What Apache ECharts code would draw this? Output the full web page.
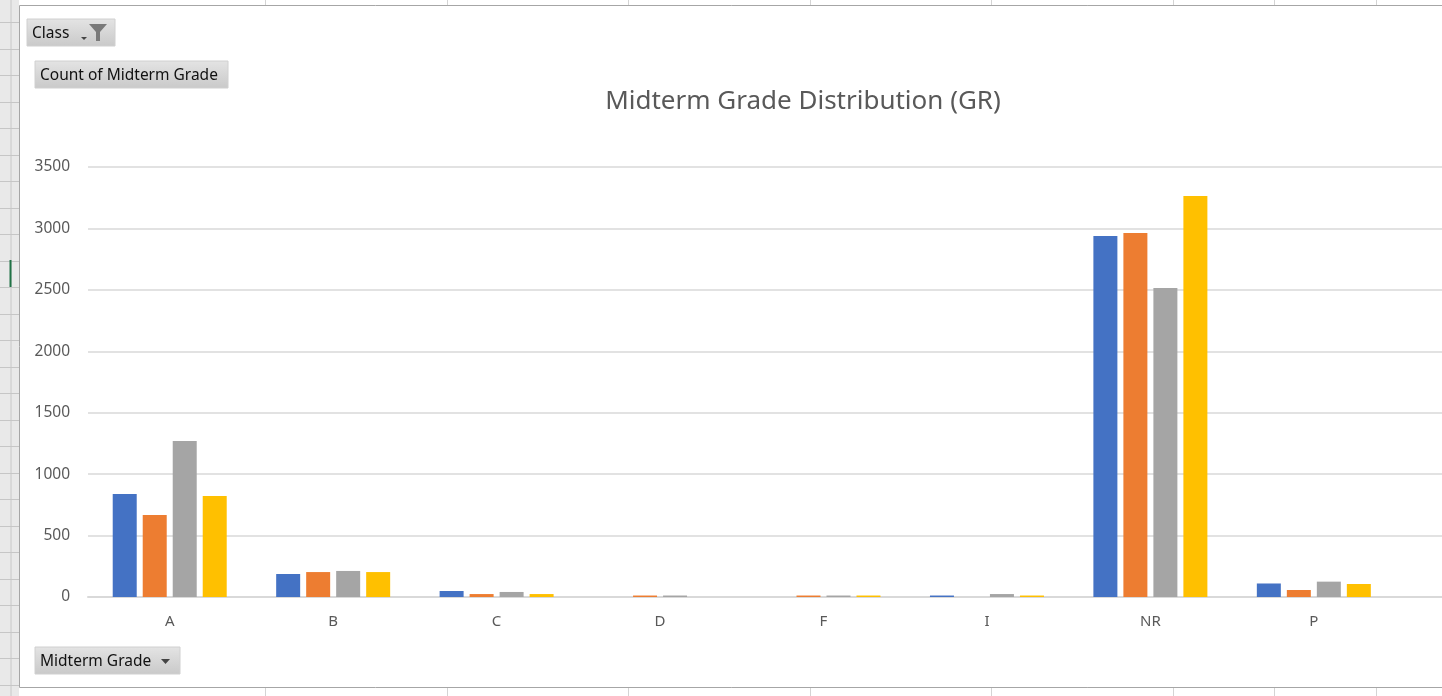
<!DOCTYPE html>
<html>
<head>
<meta charset="utf-8">
<script src="https://cdn.jsdelivr.net/npm/echarts@6/dist/echarts.min.js"></script>
<style>
html,body{margin:0;padding:0;background:#fff;}
#chart{width:1442px;height:696px;}
</style>
</head>
<body>
<div id="chart"></div>
<script>
// ---- data ----
const categories = ['A', 'B', 'C', 'D', 'F', 'I', 'NR', 'P'];
const series1 = [838, 187, 49, null, null, 12, 2938, 110];
const series2 = [667, 203, 24, 12, 12, null, 2963, 57];
const series3 = [1270, 212, 41, 12, 12, 24, 2515, 125];
const series4 = [822, 203, 24, null, 12, 12, 3264, 106];
const seriesNames = ['Class 1', 'Class 2', 'Class 3', 'Class 4'];
const yTicks = { min: 0, max: 3500, interval: 500 };
const titleText = 'Midterm Grade Distribution (GR)';

const colors = ['#4472C4', '#ED7D31', '#A5A5A5', '#FFC000'];
const FONT = '"Noto Sans", "DejaVu Sans", sans-serif';

// ---- spreadsheet background decoration ----
const deco = [];
deco.push({type:'rect', shape:{x:0,y:0,width:19,height:696}, style:{fill:'#e9e9e9'}, z:-10, silent:true});
deco.push({type:'line', shape:{x1:11,y1:0,x2:11,y2:696}, style:{stroke:'#c8c8c8',lineWidth:1}, z:-9, silent:true});
for (let y = 22; y < 696; y += 26.5) {
  deco.push({type:'line', shape:{x1:0,y1:Math.round(y)+0.5,x2:19,y2:Math.round(y)+0.5}, style:{stroke:'#c6c6c6',lineWidth:1}, z:-9, silent:true});
}
deco.push({type:'line', shape:{x1:10.5,y1:260,x2:10.5,y2:287}, style:{stroke:'#217346',lineWidth:2}, z:-8, silent:true});
[265, 447, 628, 810, 991, 1173, 1274, 1376].forEach(x => {
  deco.push({type:'line', shape:{x1:x+0.5,y1:0,x2:x+0.5,y2:6}, style:{stroke:'#d4d4d4',lineWidth:1}, z:-9, silent:true});
  deco.push({type:'line', shape:{x1:x+0.5,y1:688,x2:x+0.5,y2:696}, style:{stroke:'#d4d4d4',lineWidth:1}, z:-9, silent:true});
});
deco.push({type:'rect', shape:{x:19.5,y:5.5,width:1440,height:682}, style:{fill:'#ffffff',stroke:'#a6a6a6',lineWidth:1}, z:-7, silent:true});

function button(x, y, w, h, label) {
  return [
    {type:'rect', shape:{x:x,y:y,width:w,height:h},
     style:{fill:new echarts.graphic.LinearGradient(0,0,0,1,[{offset:0,color:'#e4e4e4'},{offset:1,color:'#c9c9c9'}]), stroke:'#d0d0d0', lineWidth:1},
     z:10, silent:true},
    {type:'text', x:x+5, y:y+h/2+1, style:{text:label, fill:'#111111', font:'15.5px ' + FONT, textVerticalAlign:'middle'}, z:11, silent:true}
  ];
}
deco.push(...button(27, 19, 88, 27, 'Class'));
deco.push(...button(35, 61, 193, 27, 'Count of Midterm Grade'));
deco.push(...button(35, 647, 145, 27, 'Midterm Grade'));
deco.push({type:'polygon', shape:{points:[[89,24],[107,24],[100,32],[100,41],[96,41],[96,32]]}, style:{fill:'#7a7a7a'}, z:12, silent:true});
deco.push({type:'polygon', shape:{points:[[81,37],[87,37],[84,40]]}, style:{fill:'#444'}, z:12, silent:true});
deco.push({type:'polygon', shape:{points:[[161,659],[170,659],[165.5,664]]}, style:{fill:'#444'}, z:12, silent:true});

const chart = echarts.init(document.getElementById('chart'), null, {renderer:'canvas'});
chart.setOption({
  animation: false,
  backgroundColor: '#ffffff',
  title: {
    text: titleText,
    left: 798, top: 84,
    textAlign: 'center',
    textStyle: {color:'#595959', fontSize:26, fontWeight:'normal', fontFamily:FONT}
  },
  grid: { left: 88, top: 167, height: 430, width: 1471, outerBoundsMode: 'none', containLabel: false },
  xAxis: {
    type: 'category',
    data: categories,
    max: categories.length,
    axisLine: {show:true, lineStyle:{color:'#d9d9d9', width:2}},
    axisTick: {show:false},
    axisLabel: {color:'#595959', fontSize:15, fontFamily:FONT, margin:17,
      formatter: v => (categories.indexOf(v) >= 0 ? v : '')}
  },
  yAxis: {
    type: 'value',
    min: yTicks.min, max: yTicks.max, interval: yTicks.interval,
    axisLine: {show:false},
    axisTick: {show:false},
    splitLine: {lineStyle:{color:'#d9d9d9', width:1.5}},
    axisLabel: {color:'#595959', fontSize:15.5, fontFamily:FONT, margin:18, formatter: v => String(v)}
  },
  series: [series1, series2, series3, series4].map((d, i) => ({
    name: seriesNames[i],
    type: 'bar',
    data: d,
    barWidth: 24,
    barGap: '25%',
    itemStyle: {color: colors[i]}
  })),
  graphic: deco
});
</script>
</body>
</html>
